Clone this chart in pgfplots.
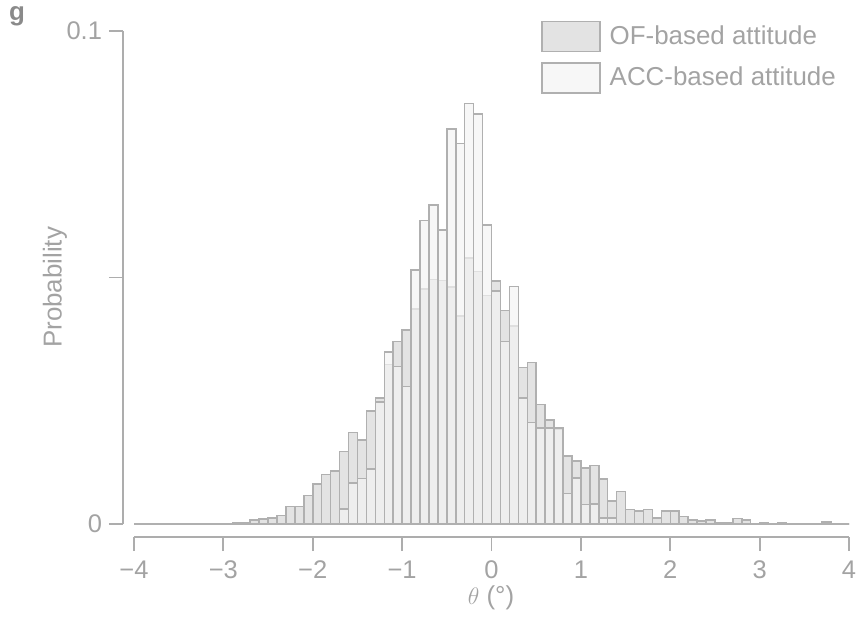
\documentclass[border=0pt]{standalone}
\usepackage{fontspec}
\setmainfont{Liberation Sans}
\usepackage{pgfplots}
\usepackage{pgfplotstable}
\pgfplotsset{compat=1.18}
\definecolor{txt}{HTML}{A3A3A3}
\definecolor{axc}{HTML}{ADADAD}
\definecolor{edgec}{HTML}{B0B0B0}
\definecolor{offill}{HTML}{E3E3E3}
\definecolor{accfill}{HTML}{F3F3F3}

\pgfplotstableread{
x y
-4.0 0
-2.9 0.0003
-2.8 0.0003
-2.7 0.0008
-2.6 0.0010
-2.5 0.0012
-2.4 0.0017
-2.3 0.0036
-2.2 0.0036
-2.1 0.0058
-2.0 0.0081
-1.9 0.0100
-1.8 0.0108
-1.7 0.0147
-1.6 0.0186
-1.5 0.0170
-1.4 0.0229
-1.3 0.0256
-1.2 0.0324
-1.1 0.0370
-1.0 0.0394
-0.9 0.0436
-0.8 0.0477
-0.7 0.0496
-0.6 0.0494
-0.5 0.0481
-0.4 0.0422
-0.3 0.0540
-0.2 0.0512
-0.1 0.0463
0.0 0.0493
0.1 0.0433
0.2 0.0402
0.3 0.0317
0.4 0.0328
0.5 0.0242
0.6 0.0211
0.7 0.0192
0.8 0.0138
0.9 0.0128
1.0 0.0114
1.1 0.0119
1.2 0.0091
1.3 0.0047
1.4 0.0066
1.5 0.0029
1.6 0.0026
1.7 0.0029
1.8 0.0012
1.9 0.0026
2.0 0.0026
2.1 0.0015
2.2 0.0008
2.3 0.0006
2.4 0.0008
2.5 0.0003
2.6 0.0003
2.7 0.0011
2.8 0.0008
2.9 0
3.0 0.0003
3.1 0
3.2 0.0003
3.3 0
3.7 0.0004
3.8 0
4.0 0
}\ofdata

\pgfplotstableread{
x y
-4.0 0
-1.7 0.0030
-1.6 0.0083
-1.5 0.0092
-1.4 0.0112
-1.3 0.0247
-1.2 0.0349
-1.1 0.0319
-1.0 0.0279
-0.9 0.0515
-0.8 0.0616
-0.7 0.0647
-0.6 0.0596
-0.5 0.0801
-0.4 0.0772
-0.3 0.0853
-0.2 0.0832
-0.1 0.0606
0.0 0.0473
0.1 0.0370
0.2 0.0482
0.3 0.0256
0.4 0.0206
0.5 0.0195
0.6 0.0195
0.7 0.0195
0.8 0.0062
0.9 0.0093
1.0 0.0040
1.1 0.0041
1.2 0.0012
1.3 0.0012
1.4 0
4.0 0
}\accdata

\begin{document}
\begin{tikzpicture}
\begin{axis}[
  scale only axis, width=357.5bp, height=246.5bp,
  xmin=-4, xmax=4, ymin=0, ymax=0.1,
  axis lines*=left,
  axis x line shift=6.5bp,
  axis y line shift=5.5bp,
  axis line style={axc, line width=0.9bp},
  major tick style={axc, line width=0.9bp},
  tick align=outside, major tick length=7bp,
  xtick={-4,-3,-2,-1,0,1,2,3,4},
  xticklabels={−4,−3,−2,−1,0,1,2,3,4},
  ytick={0,0.05,0.1}, yticklabels={0,,0.1},
  tick label style={font=\fontsize{12.8}{15}\selectfont, text=txt},
  xticklabel style={yshift=-1.5bp},
  every axis y label/.style={at={(axis description cs:-0.1105,0.48)}, rotate=90, anchor=center},
  every axis x label/.style={at={(axis description cs:0.4993,-0.150)}, anchor=center},
  label style={font=\fontsize{13}{15}\selectfont, text=txt},
  xlabel={$\theta$ (°)},
  ylabel={Probability},
  legend style={at={(axis description cs:0.569,1.0223)}, anchor=north west,
    draw=none, fill=none, inner sep=0pt, row sep=5bp,
    font=\fontsize{13}{15}\selectfont, text=txt,
    nodes={inner sep=2.5bp}},
  legend cell align=left,
  legend image code/.code={\draw[#1] (0bp,-7.5bp) rectangle (29bp,7.5bp);},
]
\addplot[ybar interval, fill=offill, draw=edgec, line width=0.75bp] table[x=x,y=y] {\ofdata};
\addlegendentry{\hspace{2bp}OF-based attitude}
\addplot[ybar interval, fill=accfill, fill opacity=0.7, draw=edgec, draw opacity=1, line width=0.75bp] table[x=x,y=y] {\accdata};
\addlegendentry{\hspace{2bp}ACC-based attitude}
\end{axis}
\node[font=\bfseries\fontsize{13}{15}\selectfont, text=txt!85!black] at (-58.5bp,254bp) {g};
\pgfresetboundingbox
\path[use as bounding box] (-67bp,-49bp) rectangle (364.5bp,262bp);
\end{tikzpicture}
\end{document}
